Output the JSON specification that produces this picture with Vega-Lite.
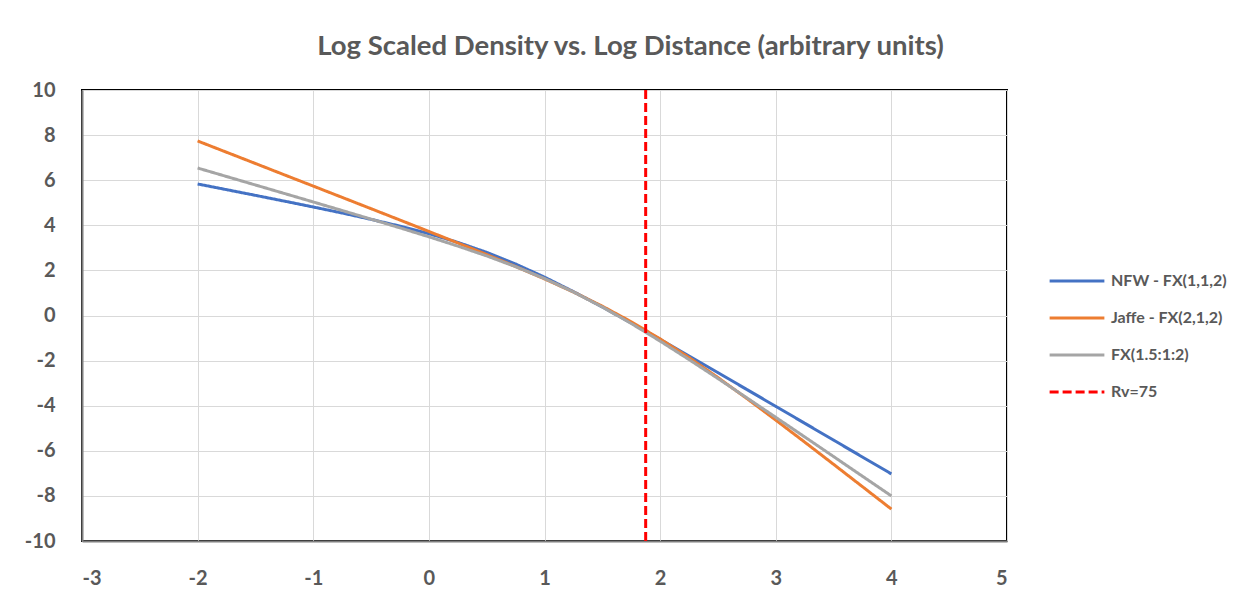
{
  "$schema": "https://vega.github.io/schema/vega-lite/v6.json",
  "width": 925,
  "height": 451,
  "autosize": {"type": "none"},
  "padding": {"left": 82, "top": 90, "right": 241, "bottom": 55},
  "background": "white",
  "config": {
    "font": "Lato",
    "view": {"stroke": "#000000", "strokeWidth": 2},
    "axis": {"labelFont": "Lato", "labelFontWeight": "bold", "labelColor": "#595959", "labelFontSize": 20, "gridColor": "#D9D9D9", "gridWidth": 1, "ticks": false, "domainColor": "#7F7F7F", "domainWidth": 2, "title": null}
  },
  "title": {
    "text": "Log Scaled Density vs. Log Distance (arbitrary units)",
    "font": "Lato",
    "fontSize": 27.5,
    "fontWeight": "bold",
    "color": "#595959",
    "anchor": "middle",
    "frame": "group",
    "dx": 86,
    "offset": 20
  },
  "data": {
    "values": [
      {"series": "NFW - FX(1,1,2)", "x": -2, "y": 5.833},
      {"series": "NFW - FX(1,1,2)", "x": -1.75, "y": 5.581},
      {"series": "NFW - FX(1,1,2)", "x": -1.5, "y": 5.328},
      {"series": "NFW - FX(1,1,2)", "x": -1.25, "y": 5.072},
      {"series": "NFW - FX(1,1,2)", "x": -1, "y": 4.812},
      {"series": "NFW - FX(1,1,2)", "x": -0.75, "y": 4.544},
      {"series": "NFW - FX(1,1,2)", "x": -0.5, "y": 4.264},
      {"series": "NFW - FX(1,1,2)", "x": -0.25, "y": 3.963},
      {"series": "NFW - FX(1,1,2)", "x": 0, "y": 3.628},
      {"series": "NFW - FX(1,1,2)", "x": 0.25, "y": 3.245},
      {"series": "NFW - FX(1,1,2)", "x": 0.5, "y": 2.8},
      {"series": "NFW - FX(1,1,2)", "x": 0.75, "y": 2.284},
      {"series": "NFW - FX(1,1,2)", "x": 1, "y": 1.701},
      {"series": "NFW - FX(1,1,2)", "x": 1.25, "y": 1.06},
      {"series": "NFW - FX(1,1,2)", "x": 1.5, "y": 0.379},
      {"series": "NFW - FX(1,1,2)", "x": 1.75, "y": -0.331},
      {"series": "NFW - FX(1,1,2)", "x": 2, "y": -1.057},
      {"series": "NFW - FX(1,1,2)", "x": 2.25, "y": -1.793},
      {"series": "NFW - FX(1,1,2)", "x": 2.5, "y": -2.535},
      {"series": "NFW - FX(1,1,2)", "x": 2.75, "y": -3.281},
      {"series": "NFW - FX(1,1,2)", "x": 3, "y": -4.028},
      {"series": "NFW - FX(1,1,2)", "x": 3.25, "y": -4.777},
      {"series": "NFW - FX(1,1,2)", "x": 3.5, "y": -5.526},
      {"series": "NFW - FX(1,1,2)", "x": 3.75, "y": -6.276},
      {"series": "NFW - FX(1,1,2)", "x": 4, "y": -7.025},
      {"series": "Jaffe - FX(2,1,2)", "x": -2, "y": 7.74},
      {"series": "Jaffe - FX(2,1,2)", "x": -1.75, "y": 7.24},
      {"series": "Jaffe - FX(2,1,2)", "x": -1.5, "y": 6.74},
      {"series": "Jaffe - FX(2,1,2)", "x": -1.25, "y": 6.239},
      {"series": "Jaffe - FX(2,1,2)", "x": -1, "y": 5.739},
      {"series": "Jaffe - FX(2,1,2)", "x": -0.75, "y": 5.238},
      {"series": "Jaffe - FX(2,1,2)", "x": -0.5, "y": 4.736},
      {"series": "Jaffe - FX(2,1,2)", "x": -0.25, "y": 4.233},
      {"series": "Jaffe - FX(2,1,2)", "x": 0, "y": 3.728},
      {"series": "Jaffe - FX(2,1,2)", "x": 0.25, "y": 3.218},
      {"series": "Jaffe - FX(2,1,2)", "x": 0.5, "y": 2.701},
      {"series": "Jaffe - FX(2,1,2)", "x": 0.75, "y": 2.172},
      {"series": "Jaffe - FX(2,1,2)", "x": 1, "y": 1.623},
      {"series": "Jaffe - FX(2,1,2)", "x": 1.25, "y": 1.041},
      {"series": "Jaffe - FX(2,1,2)", "x": 1.5, "y": 0.413},
      {"series": "Jaffe - FX(2,1,2)", "x": 1.75, "y": -0.277},
      {"series": "Jaffe - FX(2,1,2)", "x": 2, "y": -1.037},
      {"series": "Jaffe - FX(2,1,2)", "x": 2.25, "y": -1.865},
      {"series": "Jaffe - FX(2,1,2)", "x": 2.5, "y": -2.752},
      {"series": "Jaffe - FX(2,1,2)", "x": 2.75, "y": -3.681},
      {"series": "Jaffe - FX(2,1,2)", "x": 3, "y": -4.638},
      {"series": "Jaffe - FX(2,1,2)", "x": 3.25, "y": -5.613},
      {"series": "Jaffe - FX(2,1,2)", "x": 3.5, "y": -6.599},
      {"series": "Jaffe - FX(2,1,2)", "x": 3.75, "y": -7.591},
      {"series": "Jaffe - FX(2,1,2)", "x": 4, "y": -8.586},
      {"series": "FX(1.5:1:2)", "x": -2, "y": 6.54},
      {"series": "FX(1.5:1:2)", "x": -1.75, "y": 6.164},
      {"series": "FX(1.5:1:2)", "x": -1.5, "y": 5.788},
      {"series": "FX(1.5:1:2)", "x": -1.25, "y": 5.412},
      {"series": "FX(1.5:1:2)", "x": -1, "y": 5.035},
      {"series": "FX(1.5:1:2)", "x": -0.75, "y": 4.656},
      {"series": "FX(1.5:1:2)", "x": -0.5, "y": 4.274},
      {"series": "FX(1.5:1:2)", "x": -0.25, "y": 3.887},
      {"series": "FX(1.5:1:2)", "x": 0, "y": 3.49},
      {"series": "FX(1.5:1:2)", "x": 0.25, "y": 3.079},
      {"series": "FX(1.5:1:2)", "x": 0.5, "y": 2.642},
      {"series": "FX(1.5:1:2)", "x": 0.75, "y": 2.167},
      {"series": "FX(1.5:1:2)", "x": 1, "y": 1.638},
      {"series": "FX(1.5:1:2)", "x": 1.25, "y": 1.043},
      {"series": "FX(1.5:1:2)", "x": 1.5, "y": 0.377},
      {"series": "FX(1.5:1:2)", "x": 1.75, "y": -0.354},
      {"series": "FX(1.5:1:2)", "x": 2, "y": -1.136},
      {"series": "FX(1.5:1:2)", "x": 2.25, "y": -1.954},
      {"series": "FX(1.5:1:2)", "x": 2.5, "y": -2.795},
      {"series": "FX(1.5:1:2)", "x": 2.75, "y": -3.651},
      {"series": "FX(1.5:1:2)", "x": 3, "y": -4.515},
      {"series": "FX(1.5:1:2)", "x": 3.25, "y": -5.383},
      {"series": "FX(1.5:1:2)", "x": 3.5, "y": -6.255},
      {"series": "FX(1.5:1:2)", "x": 3.75, "y": -7.128},
      {"series": "FX(1.5:1:2)", "x": 4, "y": -8.001},
      {"series": "Rv=75", "x": 1.875, "y": -10},
      {"series": "Rv=75", "x": 1.875, "y": 10}
    ]
  },
  "mark": {"type": "line", "strokeWidth": 3, "strokeCap": "butt", "clip": true},
  "encoding": {
    "x": {
      "field": "x", "type": "quantitative",
      "scale": {"domain": [-3, 5], "nice": false, "zero": false},
      "axis": {"values": [-3, -2, -1, 0, 1, 2, 3, 4, 5], "labelPadding": 27, "labelExpr": "'' + datum.value"}
    },
    "y": {
      "field": "y", "type": "quantitative",
      "scale": {"domain": [-10, 10], "nice": false, "zero": false},
      "axis": {"values": [-10, -8, -6, -4, -2, 0, 2, 4, 6, 8, 10], "labelPadding": 27, "labelExpr": "'' + datum.value"}
    },
    "color": {
      "field": "series", "type": "nominal",
      "scale": {
        "domain": ["NFW - FX(1,1,2)", "Jaffe - FX(2,1,2)", "FX(1.5:1:2)", "Rv=75"],
        "range": ["#4472C4", "#ED7D31", "#A5A5A5", "#FF0000"]
      },
      "legend": {
        "title": null,
        "orient": "none",
        "legendX": 966,
        "legendY": 162,
        "symbolType": "stroke",
        "symbolSize": 3000,
        "symbolStrokeWidth": 3,
        "labelFont": "Lato",
        "labelFontSize": 16,
        "labelFontWeight": "bold",
        "labelColor": "#595959",
        "rowPadding": -22.5,
        "labelOffset": 5
      }
    },
    "strokeDash": {
      "field": "series", "type": "nominal",
      "scale": {
        "domain": ["NFW - FX(1,1,2)", "Jaffe - FX(2,1,2)", "FX(1.5:1:2)", "Rv=75"],
        "range": [[1, 0], [1, 0], [1, 0], [9, 4]]
      },
      "legend": null
    },
    "order": {"field": "x"}
  }
}
